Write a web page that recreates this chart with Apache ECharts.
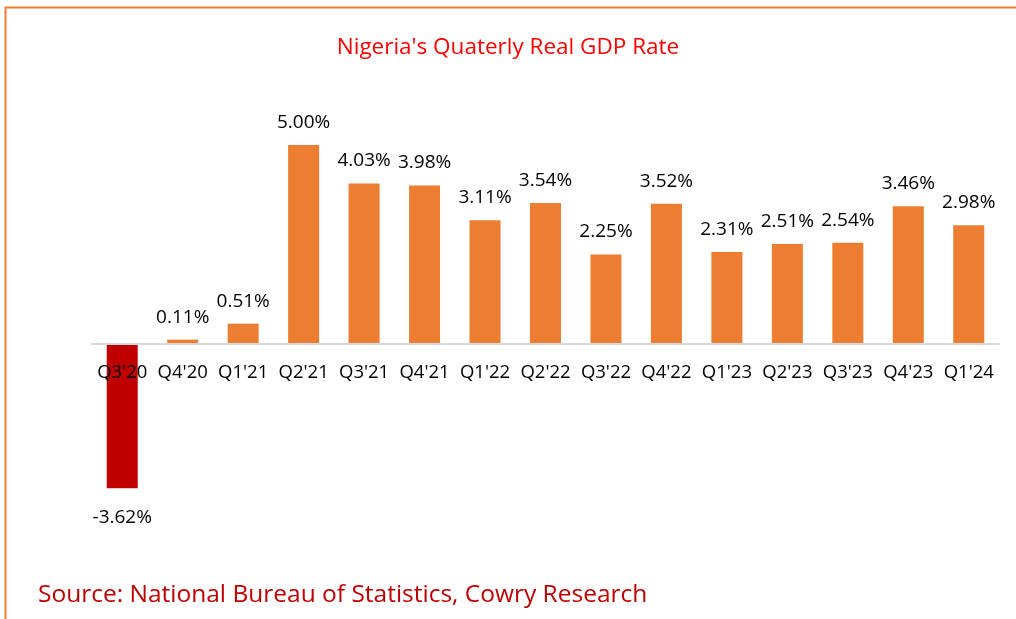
<!DOCTYPE html>
<html><head><meta charset="utf-8">
<script src="https://cdn.jsdelivr.net/npm/echarts@6/dist/echarts.min.js"></script>
<style>html,body{margin:0;padding:0;background:#fff}#c{width:1016px;height:619px}</style>
</head><body><div id="c"></div>
<script>
const categories = ["Q3'20","Q4'20","Q1'21","Q2'21","Q3'21","Q4'21","Q1'22","Q2'22","Q3'22","Q4'22","Q1'23","Q2'23","Q3'23","Q4'23","Q1'24"];
const gdpRate = [-3.62,0.11,0.51,5.00,4.03,3.98,3.11,3.54,2.25,3.52,2.31,2.51,2.54,3.46,2.98];
const titleText = "Nigeria's Quaterly Real GDP Rate";
const sourceText = "Source: National Bureau of Statistics, Cowry Research";

const FONT = 'Open Sans';
const chart = echarts.init(document.getElementById('c'), null, {renderer:'canvas'});
chart.setOption({
  backgroundColor:'#fff',
  animation:false,
  title:[
    {text:titleText, left:'center', top:31, textStyle:{color:'#FF0000', fontFamily:FONT, fontSize:22.5, fontWeight:'normal'}},
    {text:sourceText, left:33, top:578, textStyle:{color:'#C00000', fontFamily:FONT, fontSize:24.5, fontWeight:'normal'}}
  ],
  graphic:[
    {type:'rect', shape:{x:5.5,y:7.5,width:1030,height:640}, style:{fill:'none', stroke:'#ED7D31', lineWidth:2}}
  ],
  grid:{left:92, right:17, top:125, height:219},
  xAxis:{type:'category', data:categories, z:10,
    axisLine:{lineStyle:{color:'#D9D9D9', width:2}},
    axisTick:{show:false},
    axisLabel:{color:'#000', fontFamily:FONT, fontSize:18.5, margin:19, interval:0}},
  yAxis:{type:'value', min:0, max:5.5, show:false, splitLine:{show:false}},
  series:[{type:'bar', barWidth:31, clip:false, z:2,
    data:gdpRate.map(v=>({value:v,
      itemStyle:{color: v<0 ? '#C00000' : '#ED7D31'},
      label:{position: v<0 ? 'bottom':'top', distance: v<0 ? 20 : 13}})),
    label:{show:true, color:'#000', fontFamily:FONT, fontSize:19,
      formatter:p=>p.value.toFixed(2)+'%'}
  }]
});
</script></body></html>
